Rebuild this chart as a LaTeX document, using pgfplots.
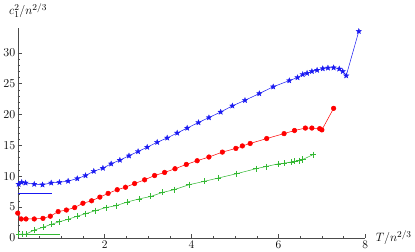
\documentclass[border=0pt]{standalone}
\usepackage{pgfplots}
\pgfplotsset{compat=1.18}
\definecolor{mblue}{rgb}{0.1,0.1,0.95}
\definecolor{mred}{rgb}{1,0,0}
\definecolor{mgreen}{rgb}{0.2,0.72,0.2}
\pgfdeclareplotmark{fstar}{%
 \pgfpathmoveto{\pgfpointpolar{90}{\pgfplotmarksize}}%
 \pgfpathlineto{\pgfpointpolar{126}{0.42\pgfplotmarksize}}%
 \pgfpathlineto{\pgfpointpolar{162}{\pgfplotmarksize}}%
 \pgfpathlineto{\pgfpointpolar{198}{0.42\pgfplotmarksize}}%
 \pgfpathlineto{\pgfpointpolar{234}{\pgfplotmarksize}}%
 \pgfpathlineto{\pgfpointpolar{270}{0.42\pgfplotmarksize}}%
 \pgfpathlineto{\pgfpointpolar{306}{\pgfplotmarksize}}%
 \pgfpathlineto{\pgfpointpolar{342}{0.42\pgfplotmarksize}}%
 \pgfpathlineto{\pgfpointpolar{18}{\pgfplotmarksize}}%
 \pgfpathlineto{\pgfpointpolar{54}{0.42\pgfplotmarksize}}%
 \pgfpathclose\pgfusepathqfillstroke}
\begin{document}
\begin{tikzpicture}
\begin{axis}[
  scale only axis, width=345pt, height=208pt,
  xmin=0, xmax=8, ymin=0, ymax=34,
  axis lines=left, axis line style={-, black!70, line width=0.4pt},
  clip=false,
  xtick={0,2,4,6,8}, xticklabels={,2,4,6,8},
  ytick={0,5,10,15,20,25,30},
  minor x tick num=3, minor y tick num=4,
  tick align=inside,
  major tick length=4pt, minor tick length=2pt,
  tick style={black!70, line width=0.4pt},
  tick label style={font=\fontsize{11.5}{13}\selectfont},
  yticklabel style={xshift=1pt},
  xticklabel style={yshift=1pt},
  xlabel={$T/n^{2/3}$}, ylabel={$c_1^2/n^{2/3}$},
  label style={font=\fontsize{12.5}{14}\selectfont},
  xlabel style={at={(axis description cs:1,0)}, anchor=west, xshift=7pt, yshift=0pt},
  ylabel style={at={(axis description cs:0,1)}, anchor=south west, rotate=-90, xshift=-12pt, yshift=7pt},
]
\addplot[mblue, line width=0.5pt, forget plot] coordinates {(0,7.3) (0.79,7.3)};
\addplot[mgreen, line width=0.5pt, forget plot] coordinates {(0,0.6) (0.97,0.6)};
\addplot[mblue, line width=0.5pt, mark=fstar, mark size=2.8pt, mark options={line width=0.3pt}] coordinates {
(0.02,8.7) (0.09,9.0) (0.18,8.9) (0.38,8.7) (0.57,8.6) (0.77,8.9) (0.96,9.0)
(1.16,9.2) (1.37,9.6) (1.56,10.1) (1.75,10.8) (1.96,11.3) (2.15,12.0) (2.35,12.6)
(2.56,13.3) (2.77,14.0) (2.98,14.7) (3.21,15.5) (3.44,16.2) (3.67,17.0) (3.90,17.8)
(4.16,18.7) (4.40,19.5) (4.67,20.4) (4.94,21.4) (5.23,22.3) (5.56,23.4) (5.88,24.5)
(6.25,25.5) (6.44,26.0) (6.56,26.5) (6.66,26.7) (6.77,27.0) (6.89,27.2) (7.02,27.45)
(7.14,27.56) (7.27,27.6) (7.40,27.4) (7.48,27.0) (7.56,26.3) (7.85,33.5)};
\addplot[mred, line width=0.5pt, mark=*, mark size=2.3pt] coordinates {
(0.0,4.0) (0.08,3.05) (0.19,3.05) (0.38,3.05) (0.58,3.15) (0.75,3.5) (0.93,4.25)
(1.12,4.5) (1.31,4.9) (1.50,5.6) (1.70,6.0) (1.89,6.6) (2.08,7.2) (2.29,7.8)
(2.48,8.2) (2.69,8.8) (2.92,9.4) (3.15,10.1) (3.38,10.6) (3.62,11.2) (3.88,11.9)
(4.13,12.5) (4.40,13.1) (4.71,13.9) (5.02,14.5) (5.17,14.9) (5.35,15.3) (5.73,16.1)
(6.13,16.9) (6.37,17.4) (6.62,17.8) (6.77,17.8) (6.95,17.7) (7.00,17.5) (7.27,21.0)};
\addplot[mgreen, line width=0.5pt, mark=+, mark size=3pt, mark options={line width=0.6pt}] coordinates {
(0.02,0.6) (0.1,0.6) (0.19,0.6) (0.38,1.25) (0.58,1.7) (0.78,2.2) (0.96,2.6)
(1.16,3.0) (1.37,3.5) (1.56,3.9) (1.79,4.4) (2.03,4.9) (2.26,5.2) (2.52,5.8)
(2.79,6.3) (3.06,6.7) (3.33,7.35) (3.60,7.8) (3.94,8.6) (4.29,9.15) (4.62,9.7)
(5.04,10.4) (5.48,11.2) (5.71,11.55) (6.0,12.0) (6.13,12.1) (6.29,12.3) (6.37,12.4)
(6.48,12.5) (6.56,12.7) (6.8,13.5)};
\end{axis}
\end{tikzpicture}
\end{document}
